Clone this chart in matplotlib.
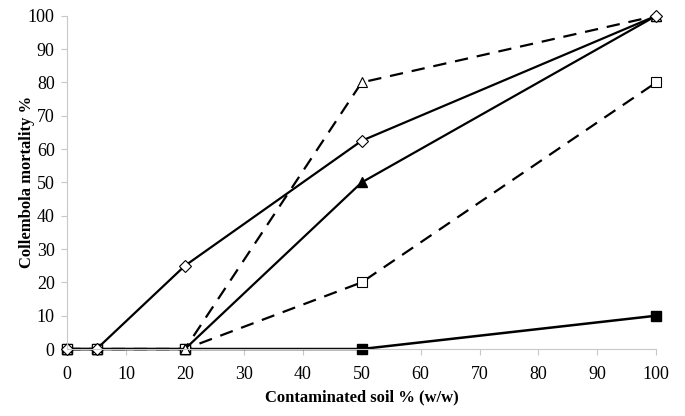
import matplotlib
matplotlib.use("Agg")
import matplotlib.pyplot as plt

plt.rcParams['font.family'] = ['Liberation Serif', 'DejaVu Serif']

# data
x = [0, 5, 20, 50, 100]
open_diamond = [0, 0, 25, 62.5, 100]
open_triangle = [0, 0, 0, 80, 100]
filled_triangle = [0, 0, 0, 50, 100]
open_square = [0, 0, 0, 20, 80]
filled_square = [0, 0, 0, 0, 10]

fig = plt.figure(figsize=(6.85, 4.16), dpi=100)
ax = fig.add_axes([0.098, 0.161, 0.86, 0.801])

ax.plot(x, filled_square, color='black', lw=1.8, marker='s', ms=7, mfc='black', mec='black')
ax.plot(x, open_square, color='black', lw=1.6, ls=(0, (6, 4)), marker='s', ms=7, mfc='white', mec='black', mew=0.8)
ax.plot(x, filled_triangle, color='black', lw=1.6, marker='^', ms=7, mfc='black', mec='black')
ax.plot(x, open_triangle, color='black', lw=1.6, ls=(0, (6, 4)), marker='^', ms=7, mfc='white', mec='black', mew=0.8)
ax.plot(x, open_diamond, color='black', lw=1.6, marker='D', ms=6, mfc='white', mec='black', mew=0.8)

ax.set_xlim(0, 100)
ax.set_ylim(0, 100)
ax.set_xticks(range(0, 101, 10))
ax.set_yticks(range(0, 101, 10))
for s in ['top', 'right']:
    ax.spines[s].set_visible(False)
for s in ['left', 'bottom']:
    ax.spines[s].set_color('#c8c8c8')
ax.tick_params(colors='#c8c8c8', labelcolor='black', labelsize=13, length=4)
ax.tick_params(axis='y', pad=5)
ax.tick_params(axis='x', pad=8)

ax.set_xlabel('Contaminated soil % (w/w)', fontsize=12, fontweight='bold')
ax.set_ylabel('Collembola mortality %', fontsize=12, fontweight='bold')
ax.xaxis.set_label_coords(0.5, -0.12)
ax.yaxis.set_label_coords(-0.054, 0.5)

for line in ax.lines:
    line.set_clip_on(False)

fig.savefig('out.png', dpi=100)
